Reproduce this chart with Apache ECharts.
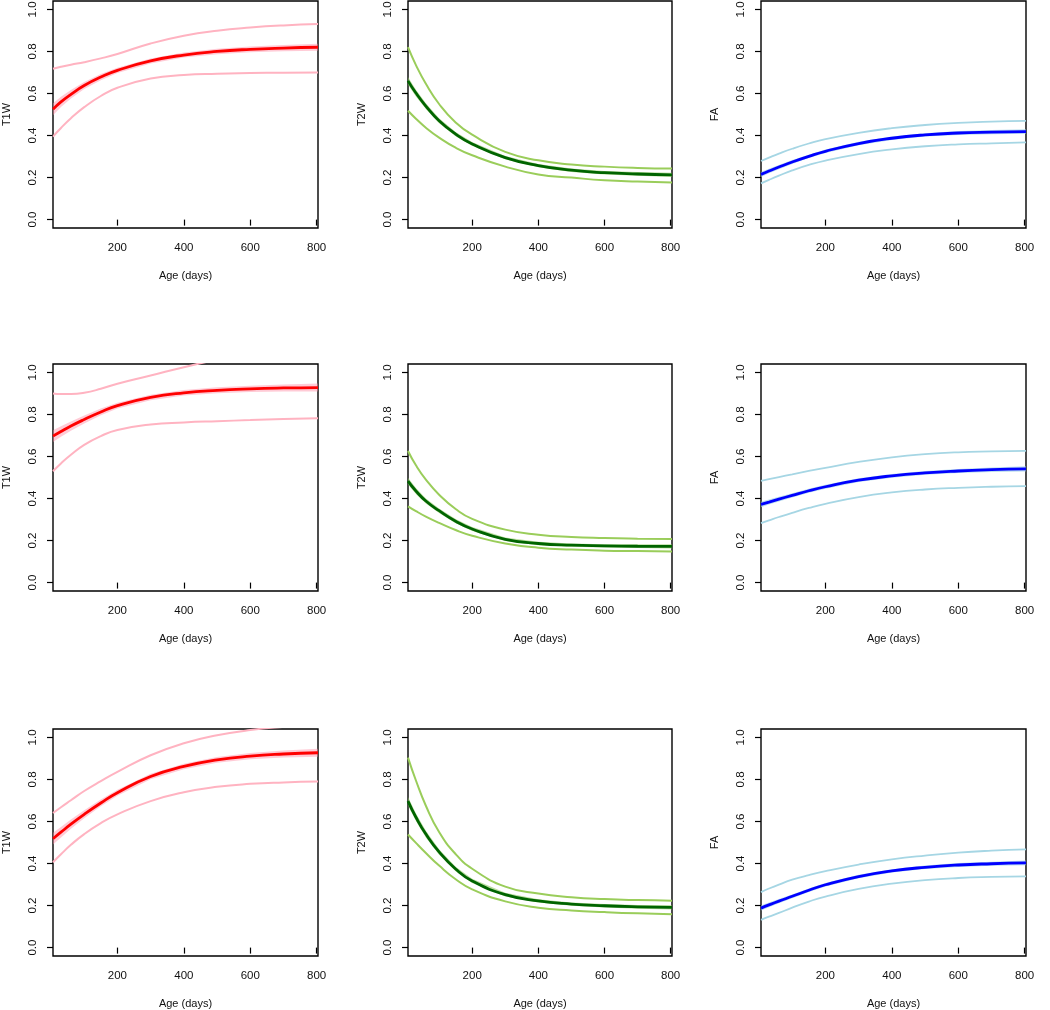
<!DOCTYPE html>
<html><head><meta charset="utf-8">
<script src="https://cdn.jsdelivr.net/npm/echarts@6/dist/echarts.min.js"></script>
<style>html,body{margin:0;padding:0;background:#fff}#c{width:1050px;height:1010px}</style>
</head><body><div id="c"></div>
<script>
// ---- data ----
const ages = [6, 30, 60, 100, 150, 200, 300, 400, 500, 600, 700, 804];
const xTicks = [200, 400, 600, 800];
const yTicks = [0, 0.2, 0.4, 0.6, 0.8, 1.0];
const yNames = ['T1W', 'T2W', 'FA'];
const xName = 'Age (days)';

// Row 1
const r1T1Mean  = [0.525, 0.56, 0.596, 0.638, 0.678, 0.71, 0.755, 0.783, 0.80, 0.81, 0.816, 0.82];
const r1T1Upper = [0.718, 0.727, 0.737, 0.749, 0.767, 0.788, 0.838, 0.875, 0.899, 0.914, 0.924, 0.93];
const r1T1Lower = [0.395, 0.436, 0.482, 0.535, 0.588, 0.627, 0.671, 0.688, 0.694, 0.697, 0.699, 0.70];
const r1T1Ci    = [0.028, 0.024, 0.02, 0.017, 0.015, 0.013, 0.012, 0.012, 0.013, 0.014, 0.015, 0.017];

const r1T2Mean  = [0.66, 0.602, 0.54, 0.47, 0.407, 0.36, 0.295, 0.257, 0.235, 0.223, 0.217, 0.213];
const r1T2Upper = [0.82, 0.735, 0.646, 0.55, 0.462, 0.404, 0.322, 0.282, 0.262, 0.252, 0.246, 0.243];
const r1T2Lower = [0.518, 0.48, 0.437, 0.39, 0.342, 0.306, 0.252, 0.215, 0.20, 0.187, 0.181, 0.177];
const r1T2Ci    = [0.018, 0.016, 0.014, 0.012, 0.01, 0.009, 0.008, 0.008, 0.008, 0.008, 0.009, 0.01];

const r1FAMean  = [0.215, 0.231, 0.25, 0.274, 0.301, 0.325, 0.362, 0.387, 0.403, 0.412, 0.416, 0.419];
const r1FAUpper = [0.279, 0.295, 0.314, 0.337, 0.362, 0.383, 0.413, 0.435, 0.45, 0.46, 0.466, 0.47];
const r1FALower = [0.172, 0.189, 0.209, 0.234, 0.26, 0.281, 0.312, 0.334, 0.349, 0.358, 0.363, 0.367];
const r1FACi    = [0.012, 0.011, 0.01, 0.009, 0.008, 0.008, 0.008, 0.008, 0.008, 0.009, 0.01, 0.011];

// Row 2
const r2T1Mean  = [0.697, 0.719, 0.745, 0.776, 0.812, 0.842, 0.881, 0.903, 0.915, 0.922, 0.926, 0.928];
const r2T1Upper = [0.90, 0.897, 0.897, 0.903, 0.922, 0.946, 0.985, 1.025, 1.06, 1.085, 1.10, 1.11];
const r2T1Lower = [0.53, 0.567, 0.608, 0.655, 0.697, 0.726, 0.752, 0.762, 0.768, 0.773, 0.778, 0.782];
const r2T1Ci    = [0.028, 0.025, 0.022, 0.019, 0.016, 0.014, 0.013, 0.013, 0.014, 0.015, 0.017, 0.019];

const r2T2Mean  = [0.483, 0.436, 0.388, 0.342, 0.292, 0.255, 0.206, 0.186, 0.178, 0.175, 0.173, 0.172];
const r2T2Upper = [0.626, 0.558, 0.49, 0.418, 0.35, 0.303, 0.252, 0.228, 0.217, 0.212, 0.209, 0.207];
const r2T2Lower = [0.363, 0.34, 0.314, 0.284, 0.25, 0.223, 0.186, 0.166, 0.157, 0.152, 0.15, 0.148];
const r2T2Ci    = [0.016, 0.014, 0.012, 0.011, 0.01, 0.009, 0.008, 0.008, 0.008, 0.008, 0.009, 0.01];

const r2FAMean  = [0.372, 0.383, 0.397, 0.415, 0.437, 0.456, 0.487, 0.508, 0.522, 0.531, 0.537, 0.541];
const r2FAUpper = [0.484, 0.492, 0.502, 0.515, 0.531, 0.546, 0.574, 0.596, 0.611, 0.62, 0.624, 0.627];
const r2FALower = [0.283, 0.296, 0.312, 0.332, 0.355, 0.375, 0.407, 0.429, 0.443, 0.451, 0.456, 0.459];
const r2FACi    = [0.013, 0.012, 0.011, 0.01, 0.009, 0.009, 0.009, 0.009, 0.009, 0.01, 0.011, 0.012];

// Row 3
const r3T1Mean  = [0.518, 0.549, 0.587, 0.634, 0.688, 0.737, 0.814, 0.862, 0.893, 0.911, 0.921, 0.927];
const r3T1Upper = [0.64, 0.668, 0.701, 0.745, 0.792, 0.836, 0.915, 0.972, 1.01, 1.035, 1.05, 1.06];
const r3T1Lower = [0.406, 0.444, 0.489, 0.54, 0.592, 0.634, 0.697, 0.739, 0.765, 0.779, 0.786, 0.79];
const r3T1Ci    = [0.028, 0.025, 0.022, 0.019, 0.016, 0.014, 0.013, 0.013, 0.014, 0.015, 0.017, 0.019];

const r3T2Mean  = [0.697, 0.62, 0.54, 0.455, 0.374, 0.317, 0.252, 0.222, 0.207, 0.199, 0.194, 0.191];
const r3T2Upper = [0.904, 0.795, 0.675, 0.55, 0.445, 0.375, 0.29, 0.257, 0.24, 0.231, 0.226, 0.223];
const r3T2Lower = [0.538, 0.498, 0.45, 0.39, 0.325, 0.277, 0.22, 0.19, 0.177, 0.169, 0.163, 0.159];
const r3T2Ci    = [0.02, 0.018, 0.016, 0.013, 0.011, 0.01, 0.009, 0.008, 0.008, 0.008, 0.009, 0.01];

const r3FAMean  = [0.188, 0.203, 0.221, 0.244, 0.273, 0.299, 0.338, 0.365, 0.382, 0.393, 0.399, 0.403];
const r3FAUpper = [0.264, 0.281, 0.30, 0.323, 0.345, 0.364, 0.395, 0.42, 0.438, 0.452, 0.461, 0.467];
const r3FALower = [0.132, 0.147, 0.165, 0.19, 0.219, 0.243, 0.279, 0.304, 0.321, 0.331, 0.336, 0.339];
const r3FACi    = [0.012, 0.011, 0.01, 0.009, 0.008, 0.008, 0.008, 0.008, 0.008, 0.009, 0.01, 0.011];

const panels = [
  [r1T1Mean, r1T1Upper, r1T1Lower, r1T1Ci], [r1T2Mean, r1T2Upper, r1T2Lower, r1T2Ci], [r1FAMean, r1FAUpper, r1FALower, r1FACi],
  [r2T1Mean, r2T1Upper, r2T1Lower, r2T1Ci], [r2T2Mean, r2T2Upper, r2T2Lower, r2T2Ci], [r2FAMean, r2FAUpper, r2FALower, r2FACi],
  [r3T1Mean, r3T1Upper, r3T1Lower, r3T1Ci], [r3T2Mean, r3T2Upper, r3T2Lower, r3T2Ci], [r3FAMean, r3FAUpper, r3FALower, r3FACi]
];

// ---- styling ----
const colStyle = [
  { main: '#ff0000', outer: '#ffb3c1', band: 'rgba(255,140,165,0.45)', ow: 2 },
  { main: '#006400', outer: '#9acd5a', band: 'rgba(130,195,80,0.55)', ow: 2 },
  { main: '#0000ff', outer: '#a6d6e4', band: 'rgba(150,205,228,0.65)', ow: 1.8 }
];
const gridLeft = [53, 408, 761];
const gridWidth = [265, 264, 265];
const gridTop = [1, 364, 729];
const gridHeight = 227;
const font = 'Liberation Sans, Arial, Helvetica, sans-serif';

const grids = [], xAxes = [], yAxes = [], series = [];
panels.forEach((p, k) => {
  const row = Math.floor(k / 3), col = k % 3;
  const [mean, upper, lower, ci] = p;
  const st = colStyle[col];
  grids.push({
    left: gridLeft[col], top: gridTop[row], width: gridWidth[col], height: gridHeight,
    show: true, borderColor: '#000', borderWidth: 1.4, backgroundColor: 'transparent',
    containLabel: false, outerBoundsMode: 'none'
  });
  xAxes.push({
    type: 'value', gridIndex: k, min: 6, max: 804,
    name: xName, nameLocation: 'middle', nameGap: 42,
    nameTextStyle: { fontFamily: font, fontSize: 11, color: '#111' },
    axisLine: { show: false },
    splitLine: { show: false },
    axisTick: { show: true, inside: false, length: 6, customValues: xTicks, lineStyle: { color: '#000', width: 1.2 } },
    axisLabel: { show: true, margin: 14, customValues: xTicks, fontFamily: font, fontSize: 11.5, color: '#111' }
  });
  yAxes.push({
    type: 'value', gridIndex: k, min: -0.04, max: 1.04,
    name: yNames[col], nameLocation: 'middle', nameGap: 41, nameRotate: 90,
    nameTextStyle: { fontFamily: font, fontSize: 11, color: '#111' },
    axisLine: { show: false },
    splitLine: { show: false },
    axisTick: { show: true, inside: false, length: 6, customValues: yTicks, lineStyle: { color: '#000', width: 1.2 } },
    axisLabel: { show: true, margin: 14, rotate: 90, customValues: yTicks, fontFamily: font, fontSize: 11.5, color: '#111',
      formatter: v => v.toFixed(1) }
  });
  const pts = arr => ages.map((a, i) => [a, arr[i]]);
  series.push({
    type: 'custom', xAxisIndex: k, yAxisIndex: k, clip: true, z: 1,
    data: pts(mean), encode: { x: 0, y: 1 },
    renderItem: (params, api) => {
      if (params.dataIndex !== 0) return null;
      const poly = [];
      for (let i = 0; i < ages.length; i++) poly.push(api.coord([ages[i], mean[i] + ci[i]]));
      for (let i = ages.length - 1; i >= 0; i--) poly.push(api.coord([ages[i], mean[i] - ci[i]]));
      return { type: 'polygon', shape: { points: poly }, style: { fill: st.band } };
    },
    silent: true
  });
  [upper, lower].forEach(arr => series.push({
    type: 'line', xAxisIndex: k, yAxisIndex: k, data: pts(arr), smooth: 0.5,
    showSymbol: false, symbol: 'none', clip: true, z: 2, silent: true,
    lineStyle: { color: st.outer, width: st.ow }
  }));
  series.push({
    type: 'line', xAxisIndex: k, yAxisIndex: k, data: pts(mean), smooth: 0.5,
    showSymbol: false, symbol: 'none', clip: true, z: 3, silent: true,
    lineStyle: { color: st.main, width: 2.8 }
  });
});

const chart = echarts.init(document.getElementById('c'), null, { renderer: 'canvas' });
chart.setOption({
  animation: false,
  backgroundColor: '#fff',
  grid: grids, xAxis: xAxes, yAxis: yAxes, series: series
});
</script>
</body></html>
